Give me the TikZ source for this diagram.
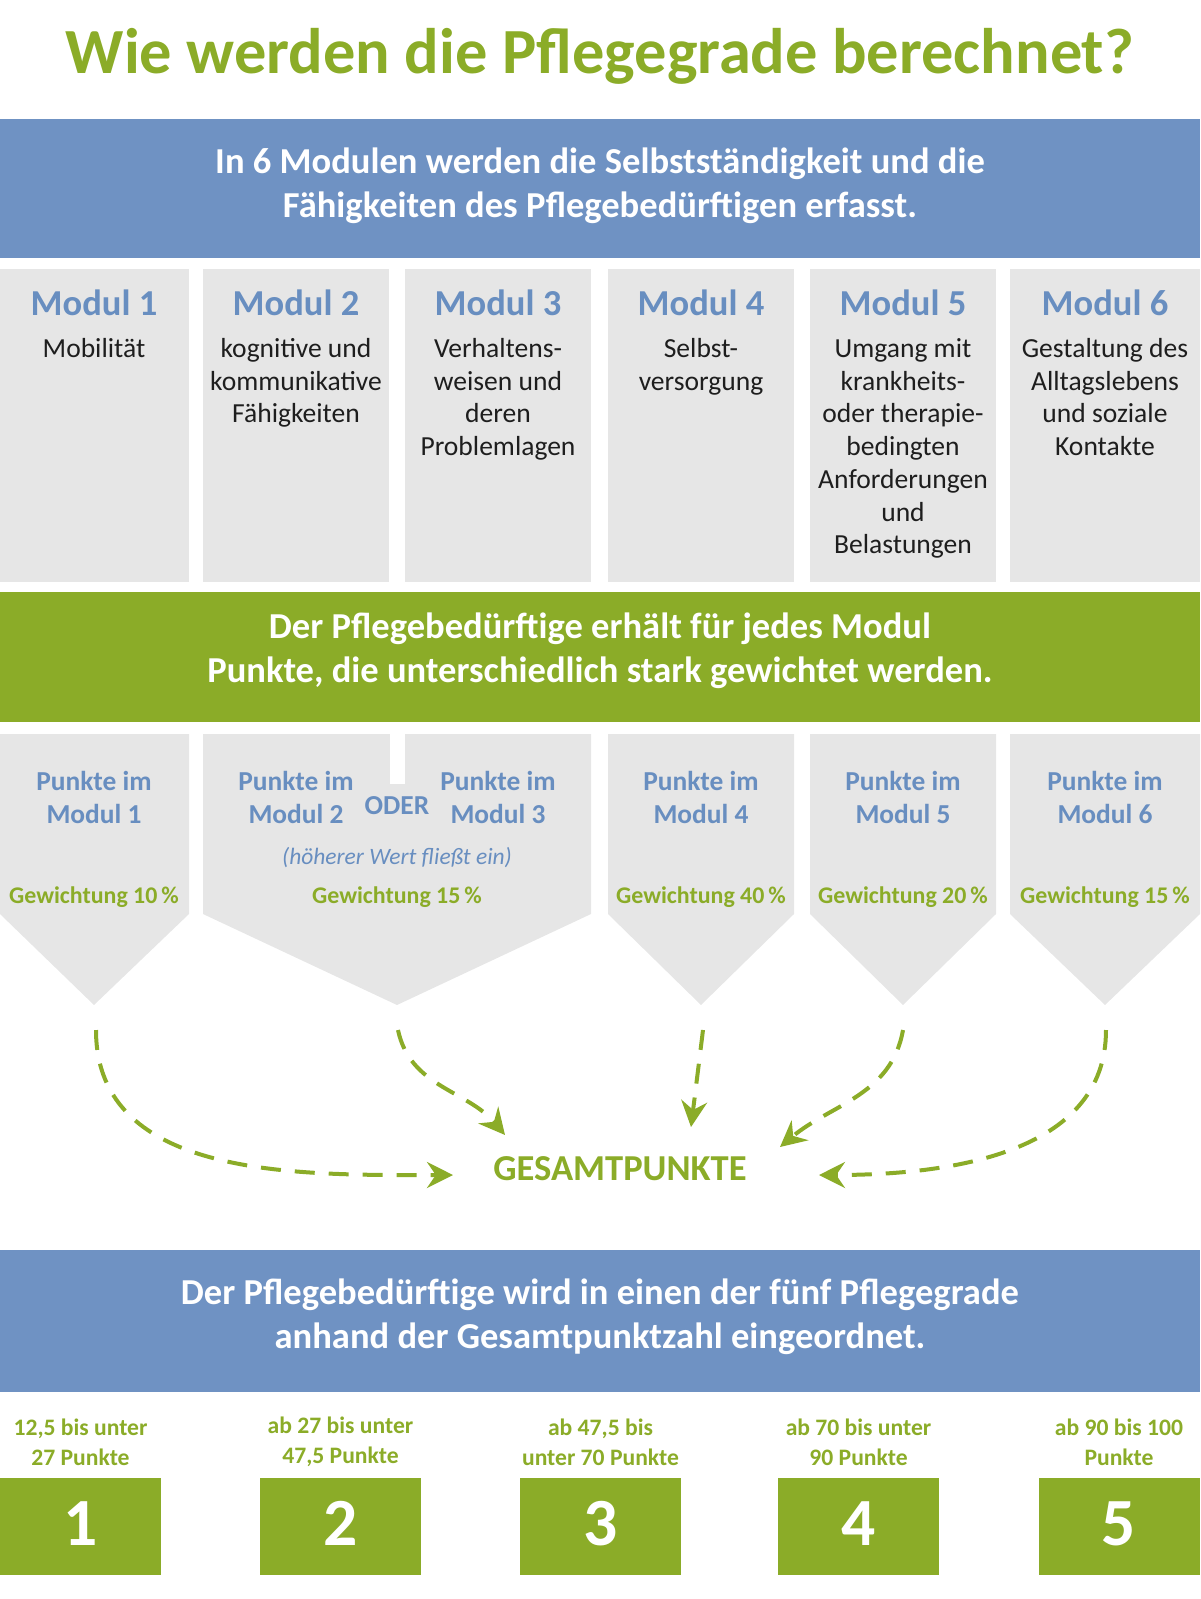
\documentclass[tikz,border=0pt]{standalone}
\usepackage{fontspec}
\setmainfont{Carlito}
\usetikzlibrary{arrows.meta,positioning}

\definecolor{bandblue}{RGB}{111,146,195}
\definecolor{leafgreen}{RGB}{139,172,40}
\definecolor{boxgray}{RGB}{230,230,230}
\definecolor{headblue}{RGB}{104,142,192}
\definecolor{bodytext}{RGB}{30,30,30}

\tikzset{
  heading/.style={text=leafgreen, font=\fontsize{45.8}{50}\selectfont\bfseries},
  bandtext/.style={text=white, align=center, font=\fontsize{26}{31.3}\selectfont\bfseries},
  modhead/.style={text=headblue, font=\fontsize{26}{30}\selectfont\bfseries},
  moddesc/.style={text=bodytext, align=center, anchor=north, inner ysep=0pt,
    font=\fontsize{19.6}{23.3}\selectfont},
  ptstext/.style={text=headblue, align=center, font=\fontsize{19.5}{23.5}\selectfont\bfseries},
  weight/.style={text=leafgreen, font=\fontsize{17}{20}\selectfont\bfseries},
  flow/.style={leafgreen, line width=1mm, dash pattern=on 5mm off 3.5mm,
    -{Stealth[length=6.5mm,width=6.5mm,inset=2.2mm]}},
  gradelabel/.style={text=leafgreen, align=center, font=\fontsize{16.8}{21.3}\selectfont\bfseries},
  gradebox/.style={fill=leafgreen, text=white, minimum width=40.25mm, minimum height=24.25mm,
    inner sep=0pt, font=\fontsize{48}{48}\selectfont\bfseries},
}

\begin{document}
\begin{tikzpicture}[x=0.25mm,y=-0.25mm]
  \useasboundingbox (0,0) rectangle (1200,1599);

  \node[heading] (title) at (600,56) {Wie werden die Pflegegrade berechnet?};

  % erste Leiste
  \fill[bandblue] (0,119) rectangle (1200,258);
  \node[bandtext] (intro) at (600,186)
    {In 6 Modulen werden die Selbstständigkeit und die\\Fähigkeiten des Pflegebedürftigen erfasst.};

  % Module
  \foreach \l/\r in {0/189,203/389,405/591,608/794,810/996,1010/1200}
    \fill[boxgray] (\l,269) rectangle (\r,582);
  \foreach \x/\txt [count=\i] in {
      94/{Mobilität},
      296/{kognitive und\\kommunikative\\Fähigkeiten},
      498/{Verhaltens-\\weisen und\\deren\\Problemlagen},
      701/{Selbst-\\versorgung},
      903/{Umgang mit\\krankheits-\\oder therapie-\\bedingten\\Anforderungen\\und\\Belastungen},
      1105/{Gestaltung des\\Alltagslebens\\und soziale\\Kontakte}} {
    \node[modhead] (mh\i) at (\x,303) {Modul \i};
    \node[moddesc] (md\i) at (\x,338) {\txt};
  }

  % zweite Leiste
  \fill[leafgreen] (0,592) rectangle (1200,722);
  \node[bandtext] (points) at (600,651)
    {Der Pflegebedürftige erhält für jedes Modul\\Punkte, die unterschiedlich stark gewichtet werden.};

  % Pfeilformen
  \foreach \l/\r/\m in {0/189/94,608/794/701,810/996/903,1010/1200/1105}
    \fill[boxgray] (\l,734) -- (\r,734) -- (\r,914) -- (\m,1005) -- (\l,914) -- cycle;
  \fill[boxgray] (203,734) -- (591,734) -- (591,914) -- (397,1005) -- (203,914) -- cycle;
  \fill[white] (390,730) rectangle (405,784);

  \foreach \x/\n in {94/1,296/2,498/3,701/4,903/5,1105/6}
    \node[ptstext] (pm\n) at (\x,797) {Punkte im\\Modul \n};
  \node[ptstext] (oder) at (397,806) {ODER};
  \node[text=headblue, font=\fontsize{16.7}{20}\selectfont\itshape] (hoeher) at (397,858)
    {(höherer Wert fließt ein)};
  \foreach \x/\p [count=\i] in {94/10,397/15,701/40,903/20,1105/15}
    \node[weight] (gw\i) at (\x,897) {Gewichtung \p\,\%};

  % Gesamtpunkte
  \node[text=leafgreen, font=\fontsize{26}{30}\selectfont\bfseries] (gp) at (620,1169) {GESAMTPUNKTE};
  \foreach \x [count=\i] in {96,398,703,903,1106}
    \coordinate (s\i) at (\x,1030);
  \draw[flow] (s1) to[out=-90,in=180] ([shift={(-167,6)}]gp.center);
  \draw[flow] (s2) to[out=-78,in=130] ([shift={(-115,-34)}]gp.center);
  \draw[flow] (s3) -- ([shift={(71,-42)}]gp.center);
  \draw[flow] (s4) to[out=-100,in=40] ([shift={(160,-22)}]gp.center);
  \draw[flow] (s5) to[out=-90,in=0] ([shift={(199,6)}]gp.center);

  % dritte Leiste
  \fill[bandblue] (0,1250) rectangle (1200,1392);
  \node[bandtext] (grades) at (600,1317)
    {Der Pflegebedürftige wird in einen der fünf Pflegegrade\\anhand der Gesamtpunktzahl eingeordnet.};

  % Pflegegrade
  \foreach \x/\txt [count=\i] in {
      80.5/{12,5 bis unter\\27 Punkte},
      340.5/{ab 27 bis unter\\47,5 Punkte},
      600.5/{ab 47,5 bis\\unter 70 Punkte},
      858.5/{ab 70 bis unter\\90 Punkte},
      1119/{ab 90 bis 100\\Punkte}} {
    \node[gradelabel] (gl\i) at (\x,1442) {\txt};
    \node[gradebox] (pg\i) at (\x,1526.5) {\raisebox{1.6mm}{\i}};
  }
\end{tikzpicture}
\end{document}
